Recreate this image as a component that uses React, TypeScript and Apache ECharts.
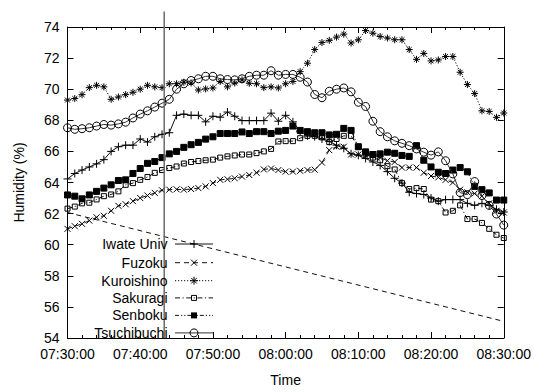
import React, { useEffect, useRef } from "react";
import * as echarts from "echarts";

// ---- data (one reading per minute from START_TIME) ----
const START_TIME = "07:30:00";
const STEP_SECONDS = 60;

const seriesNames = ["Iwate Univ", "Fuzoku", "Kuroishino", "Sakuragi", "Senboku", "Tsuchibuchi"];

const iwateUniv = [64.23, 64.58, 64.8, 65.0, 65.2, 65.47, 66.0, 66.3, 66.4, 66.4,
  66.8, 66.6, 66.94, 67.1, 67.2, 68.32, 68.4, 68.32, 68.32, 67.9,
  68.26, 68.2, 68.53, 68.26, 67.98, 67.98, 67.98, 67.98, 68.46, 67.94,
  68.32, 67.9, 67.3, 67.0, 66.95, 66.8, 66.64, 66.4, 66.2, 65.85,
  65.75, 65.55, 65.32, 65.1, 64.7, 64.27, 63.96, 63.37, 63.29, 63.23,
  63.0, 62.8, 62.9, 62.9, 62.9, 62.66, 62.53, 62.66, 62.53, 62.28,
  62.1];

const fuzoku = [61.02, 61.19, 61.34, 61.55, 61.76, 61.86, 62.18, 62.5, 62.6, 62.8,
  63.0, 63.16, 63.33, 63.5, 63.54, 63.56, 63.54, 63.58, 63.64, 63.75,
  63.96, 64.17, 64.21, 64.27, 64.38, 64.48, 64.63, 64.84, 64.9, 64.8,
  64.7, 64.7, 64.75, 64.8, 64.82, 65.28, 66.08, 66.3, 66.3, 65.8,
  65.8, 65.7, 65.82, 65.6, 65.4, 65.32, 64.96, 64.96, 64.96, 64.63,
  64.42, 64.33, 64.17, 64.0, 63.54, 63.37, 63.29, 63.12, 62.66, 62.18,
  62.07];

const kuroishino = [69.3, 69.4, 69.65, 70.1, 70.25, 70.15, 69.35, 69.5, 69.65, 69.8,
  70.0, 70.25, 70.15, 70.1, 70.35, 70.35, 70.45, 70.4, 69.95, 70.02,
  70.08, 70.5, 70.15, 70.4, 70.6, 70.38, 70.35, 70.1, 70.15, 70.08,
  70.35, 70.5, 71.13, 71.67, 72.55, 73.0, 73.14, 73.35, 73.54, 72.97,
  73.18, 73.77, 73.6, 73.39, 73.29, 73.18, 73.18, 72.55, 71.92, 72.3,
  71.82, 71.88, 72.1, 72.1, 71.09, 70.3, 69.72, 68.61, 68.57, 68.19,
  68.47];

const sakuragi = [62.32, 62.45, 62.66, 62.7, 62.91, 63.12, 63.23, 63.43, 63.85, 63.96,
  64.17, 64.35, 64.62, 64.8, 64.93, 65.03, 65.22, 65.32, 65.38, 65.43,
  65.47, 65.6, 65.68, 65.74, 65.8, 65.8, 65.89, 66.0, 66.16, 66.64,
  66.66, 66.66, 66.85, 67.0, 67.0, 66.9, 66.6, 66.8, 67.0, 67.0,
  66.3, 65.85, 65.6, 65.43, 65.05, 64.84, 63.96, 63.58, 63.64, 63.58,
  62.9, 62.8, 62.07, 62.18, 62.53, 61.65, 61.65, 61.4, 61.02, 60.64,
  60.43];

const senboku = [63.2, 63.12, 62.95, 63.2, 63.43, 63.64, 63.85, 64.13, 64.17, 64.58,
  64.9, 65.23, 65.35, 65.6, 65.84, 66.0, 66.26, 66.43, 66.58, 66.79,
  66.94, 67.15, 67.15, 67.15, 67.25, 67.15, 67.27, 67.27, 67.15, 67.3,
  67.35, 67.63, 67.35, 67.27, 67.2, 67.2, 67.06, 67.1, 67.48, 67.35,
  66.3, 65.97, 65.8, 65.84, 65.95, 65.88, 65.74, 65.68, 66.37, 65.43,
  65.0, 64.66, 64.58, 64.8, 64.96, 64.69, 63.75, 63.54, 63.33, 62.87,
  62.87];

const tsuchibuchi = [67.52, 67.42, 67.46, 67.52, 67.63, 67.73, 67.69, 67.77, 67.88, 68.15,
  68.4, 68.61, 68.85, 69.1, 69.35, 70.0, 70.35, 70.56, 70.67, 70.83,
  70.83, 70.67, 70.62, 70.6, 70.67, 70.83, 70.9, 70.9, 71.19, 70.9,
  70.95, 70.95, 70.77, 70.46, 69.66, 69.45, 69.87, 70.0, 70.08, 69.83,
  69.16, 68.89, 67.94, 67.27, 66.94, 66.68, 66.52, 66.37, 66.16, 65.95,
  65.76, 65.97, 65.4, 64.55, 63.35, 63.22, 64.06, 63.16, 62.53, 61.97,
  61.26];

// stray dashed segment (Fuzoku style) from first to last time
const strayTimes = ["07:30:00", "08:30:00"];
const strayValues = [62.07, 55.07];

// vertical marker line
const markerTime = "07:43:18";
const markerRange = [54, 75];

const X_MIN = "07:30:00";
const X_MAX = "08:30:00";
const X_STEP_SECONDS = 600;
const Y_MIN = 54;
const Y_MAX = 74;
const Y_STEP = 2;

// ---- helpers ----
const toSec = (t: string) => {
  const [h, m, s] = t.split(":").map(Number);
  return h * 3600 + m * 60 + s;
};
const pad = (n: number) => (n < 10 ? "0" + n : "" + n);
const fmt = (v: number) => {
  const h = Math.floor(v / 3600);
  const m = Math.floor((v % 3600) / 60);
  const s = Math.round(v % 60);
  return `${pad(h)}:${pad(m)}:${pad(s)}`;
};

const FONT = "'Liberation Sans', Arial, Helvetica, sans-serif";
const INK = "#000";

const PLUS = "path://M0,4L8,4M4,0L4,8";
const CROSS = "path://M0,0L6,6M0,6L6,0";
const STAR = "path://M4,0L4,8M0,4L8,4M1.2,1.2L6.8,6.8M1.2,6.8L6.8,1.2";

type Style = {
  symbol: string;
  size: number;
  fill: string;
  dash: number[] | "solid";
  marker: "plus" | "cross" | "star" | "box" | "fbox" | "circle";
  lineColor: string;
};

const styles: Style[] = [
  { symbol: PLUS, size: 8, fill: INK, dash: "solid", marker: "plus", lineColor: "#111" },
  { symbol: CROSS, size: 6, fill: INK, dash: [5, 4], marker: "cross", lineColor: "#111" },
  { symbol: STAR, size: 7, fill: INK, dash: [1.2, 1.8], marker: "star", lineColor: "#111" },
  { symbol: "rect", size: 5, fill: "rgba(0,0,0,0)", dash: [5, 2.5, 1.2, 2.5], marker: "box", lineColor: "#111" },
  { symbol: "rect", size: 6, fill: INK, dash: [4, 2, 1.2, 2, 1.2, 2], marker: "fbox", lineColor: "#111" },
  { symbol: "circle", size: 8, fill: "rgba(0,0,0,0)", dash: "solid", marker: "circle", lineColor: "#333" },
];

function markerElements(kind: Style["marker"], cx: number, cy: number): any[] {
  const ln = (x1: number, y1: number, x2: number, y2: number) => ({
    type: "line",
    shape: { x1: cx + x1, y1: cy + y1, x2: cx + x2, y2: cy + y2 },
    style: { stroke: INK, lineWidth: 1 },
    z: 101,
  });
  switch (kind) {
    case "plus":
      return [ln(-4, 0, 4, 0), ln(0, -4, 0, 4)];
    case "cross":
      return [ln(-3, -3, 3, 3), ln(-3, 3, 3, -3)];
    case "star":
      return [ln(-4, 0, 4, 0), ln(0, -4, 0, 4), ln(-2.8, -2.8, 2.8, 2.8), ln(-2.8, 2.8, 2.8, -2.8)];
    case "box":
      return [{ type: "rect", shape: { x: cx - 2.5, y: cy - 2.5, width: 5, height: 5 }, style: { fill: "none", stroke: INK, lineWidth: 1 }, z: 101 }];
    case "fbox":
      return [{ type: "rect", shape: { x: cx - 3, y: cy - 3, width: 6, height: 6 }, style: { fill: INK, stroke: INK, lineWidth: 0 }, z: 101 }];
    default:
      return [{ type: "circle", shape: { cx, cy, r: 4 }, style: { fill: "none", stroke: INK, lineWidth: 1 }, z: 101 }];
  }
}

export default function App() {
  const ref = useRef<HTMLDivElement>(null);

  useEffect(() => {
    if (!ref.current) return;
    const chart = echarts.init(ref.current, undefined, { renderer: "svg" });

    const startSec = toSec(START_TIME);
    const allSeries = [iwateUniv, fuzoku, kuroishino, sakuragi, senboku, tsuchibuchi];

    const dataSeries = allSeries.map((vals, i) => {
      const st = styles[i];
      return {
        name: seriesNames[i],
        type: "line",
        xAxisIndex: 0,
        yAxisIndex: 0,
        data: vals.map((v, k) => [startSec + k * STEP_SECONDS, v]),
        symbol: st.symbol,
        symbolSize: st.size,
        showAllSymbol: true,
        symbolKeepAspect: true,
        silent: true,
        lineStyle: { color: st.lineColor, width: 1, type: st.dash },
        itemStyle: { color: st.fill, borderColor: INK, borderWidth: 1 },
        emphasis: { disabled: true },
        z: 3 + i,
      };
    });

    const stray = {
      name: "stray",
      type: "line",
      data: strayTimes.map((t, k) => [toSec(t), strayValues[k]]),
      symbol: "none",
      silent: true,
      lineStyle: { color: "#111", width: 1, type: [5, 4] },
      z: 2,
    };

    const vline = {
      name: "marker",
      type: "line",
      clip: false,
      data: markerRange.map((v) => [toSec(markerTime), v]),
      symbol: "none",
      silent: true,
      lineStyle: { color: "#6a6a6a", width: 1.5 },
      z: 10,
    };

    // legend as graphics
    const legendRows = [244, 262.7, 280.7, 297.9, 315.4, 332.9];
    const graphics: any[] = [];
    seriesNames.forEach((name, i) => {
      const y = legendRows[i];
      const st = styles[i];
      graphics.push({
        type: "text",
        z: 100,
        style: {
          text: name,
          x: 167.5,
          y,
          align: "right",
          verticalAlign: "middle",
          font: `14px ${FONT}`,
          fill: INK,
        },
      });
      graphics.push({
        type: "line",
        z: 100,
        shape: { x1: 175, y1: y, x2: 213, y2: y },
        style: {
          stroke: st.lineColor,
          lineWidth: 1,
          lineDash: st.dash === "solid" ? null : st.dash,
        },
      });
      graphics.push(...markerElements(st.marker, 194, y));
    });

    const xMin = toSec(X_MIN);
    const xMax = toSec(X_MAX);

    const baseX = {
      type: "value",
      min: xMin,
      max: xMax,
      interval: X_STEP_SECONDS,
      splitLine: { show: false },
      axisLine: { show: true, onZero: false, lineStyle: { color: INK, width: 1 } },
      axisTick: { show: true, inside: true, length: 6, lineStyle: { color: INK } },
      minorTick: { show: true, splitNumber: 5, length: 3, lineStyle: { color: INK } },
    };
    const baseY = {
      type: "value",
      min: Y_MIN,
      max: Y_MAX,
      interval: Y_STEP,
      splitLine: { show: false },
      axisLine: { show: true, onZero: false, lineStyle: { color: INK, width: 1 } },
      axisTick: { show: true, inside: true, length: 6, lineStyle: { color: INK } },
    };

    chart.setOption({
      animation: false,
      backgroundColor: "#fff",
      grid: { left: 67.5, right: 25.7, top: 27, bottom: 46.7, containLabel: false },
      xAxis: [
        {
          ...baseX,
          position: "bottom",
          name: "Time",
          nameLocation: "middle",
          nameGap: 35,
          nameTextStyle: { fontFamily: FONT, fontSize: 14, color: INK },
          axisLabel: {
            formatter: (v: number) => fmt(v),
            fontFamily: FONT,
            fontSize: 14,
            color: INK,
            margin: 9,
            showMinLabel: true,
            showMaxLabel: true,
          },
        },
        { ...baseX, position: "top", axisLabel: { show: false } },
      ],
      yAxis: [
        {
          ...baseY,
          position: "left",
          name: "Humidity (%)",
          nameLocation: "middle",
          nameRotate: 90,
          nameGap: 42,
          nameTextStyle: { fontFamily: FONT, fontSize: 14, color: INK },
          axisLabel: { fontFamily: FONT, fontSize: 14, color: INK, margin: 8 },
        },
        { ...baseY, position: "right", axisLabel: { show: false } },
      ],
      series: [...dataSeries, stray, vline],
      graphic: graphics,
    });

    return () => chart.dispose();
  }, []);

  return (
    <div
      ref={ref}
      style={{ position: "absolute", left: 0, top: 0, width: 534, height: 392, background: "#fff" }}
    />
  );
}
